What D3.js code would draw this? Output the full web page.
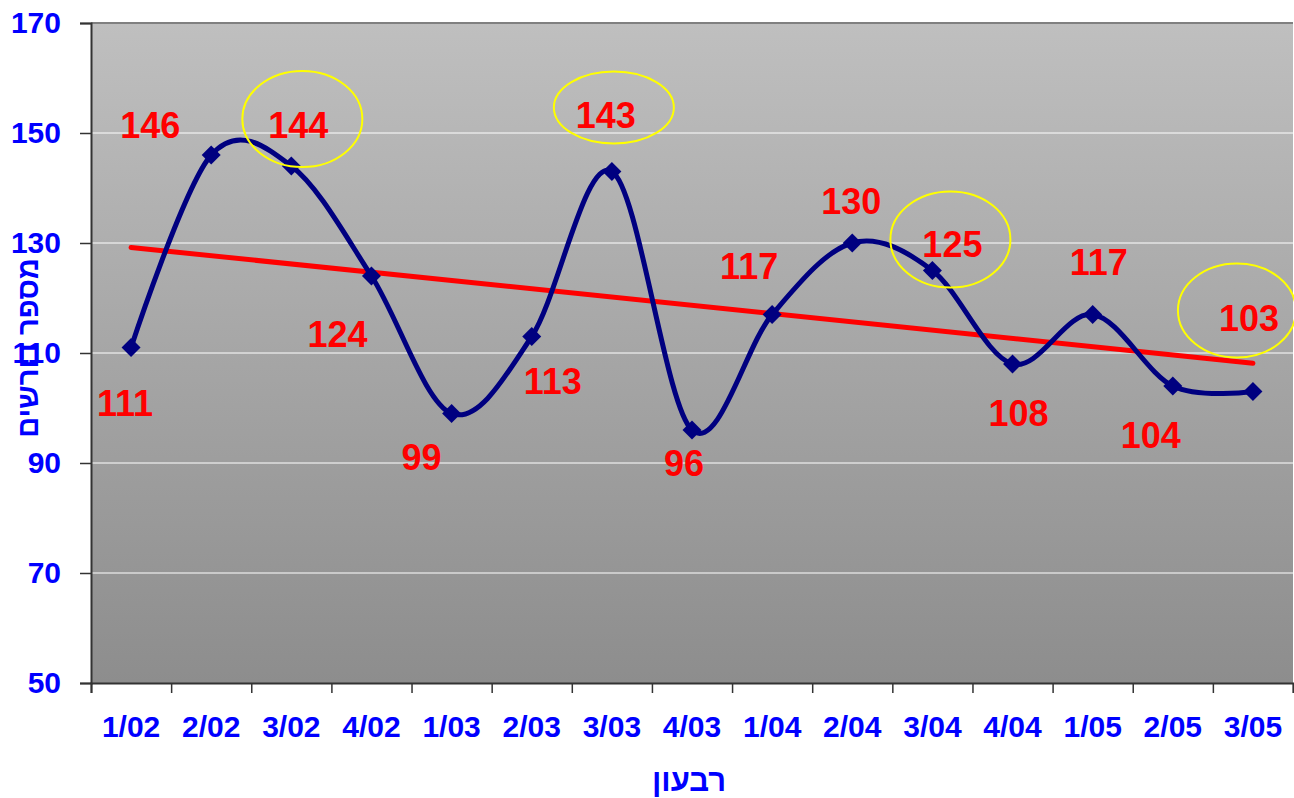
<!DOCTYPE html>
<html><head><meta charset="utf-8">
<script src="https://cdn.jsdelivr.net/npm/d3@7"></script>
<style>
html,body{margin:0;padding:0;background:#fff;}
text{font-family:"Liberation Sans",Arial,sans-serif;font-weight:bold;}
</style></head>
<body>
<svg id="chart" width="1294" height="798"></svg>
<script>
const categories = ["1/02","2/02","3/02","4/02","1/03","2/03","3/03","4/03","1/04","2/04","3/04","4/04","1/05","2/05","3/05"];
const values = [111,146,144,124,99,113,143,96,117,130,125,108,117,104,103];
const yTicks = [50,70,90,110,130,150,170];
const yTitle = "מספר דורשים";
const xTitle = "רבעון";
// label offsets (px) relative to each point
const labelDx = [-6,-61,7,-34,-30,21,-6,-8,-23,-1,20,6,6,-22,-4];
const labelDy = [56,-30,-41,58,44,45,-56,33,-48,-42,-26,49,-52,49,-73];
// highlighted points (yellow ellipses)
const hiIndex = [2,6,10,14];
const hiDx = [11,2,18,-16];
const hiDy = [-47,-64,-31,-81];
const hiRx = [60,60,60,59];
const hiRy = [48,36,48,47];

const svg = d3.select("#chart");
const L=91, R=1293, T=23, B=683;

const defs = svg.append("defs");
const g = defs.append("linearGradient").attr("id","bg").attr("x1",0).attr("y1",0).attr("x2",0).attr("y2",1);
g.append("stop").attr("offset","0%").attr("stop-color","#bfbfbf");
g.append("stop").attr("offset","100%").attr("stop-color","#8d8d8d");

svg.append("rect").attr("x",L).attr("y",T).attr("width",R-L).attr("height",B-T).attr("fill","url(#bg)");

const x = d3.scaleBand().domain(categories).range([L,R]).padding(0);
const xb = d3.scaleLinear().domain([0,categories.length]).range([L,R]);
const y = d3.scaleLinear().domain([50,170]).range([B,T]);
const cx = c => x(c) + x.bandwidth()/2;

// gridlines
svg.append("g").selectAll("line").data(yTicks.filter(t=>t>50 && t<170)).join("line")
  .attr("x1",L).attr("x2",R).attr("y1",d=>y(d)).attr("y2",d=>y(d))
  .attr("stroke","#ffffff").attr("stroke-width",1);
// top border
svg.append("line").attr("x1",L).attr("x2",R).attr("y1",T).attr("y2",T).attr("stroke","#808080").attr("stroke-width",2);

// y axis
const ya = svg.append("g").attr("transform",`translate(${L},0)`)
  .call(d3.axisLeft(y).tickValues(yTicks).tickSize(11).tickPadding(19));
ya.select(".domain").attr("stroke","#333").attr("stroke-width",2);
ya.selectAll(".tick line").attr("stroke","#333").attr("stroke-width",1.5);
ya.selectAll(".tick text").attr("fill","#0000ff").attr("font-size","30px")
  .attr("font-family","'Liberation Sans',Arial,sans-serif").attr("font-weight","bold");

// x axis ticks (boundaries)
const xa = svg.append("g").attr("transform",`translate(0,${B})`)
  .call(d3.axisBottom(xb).tickValues(d3.range(categories.length+1)).tickSize(10).tickFormat(""));
xa.select(".domain").attr("stroke","#333").attr("stroke-width",2);
xa.selectAll(".tick line").attr("stroke","#333").attr("stroke-width",1.5);
// x labels
const xl = svg.append("g").attr("transform",`translate(0,${B})`)
  .call(d3.axisBottom(x).tickSize(0).tickPadding(33));
xl.select(".domain").remove();
xl.selectAll(".tick text").attr("fill","#0000ff").attr("font-size","30px")
  .attr("font-family","'Liberation Sans',Arial,sans-serif").attr("font-weight","bold");

// trend line (least squares)
const n = values.length;
const mx = d3.mean(d3.range(n)), my = d3.mean(values);
const slope = d3.sum(values,(v,i)=>(i-mx)*(v-my)) / d3.sum(d3.range(n),i=>(i-mx)*(i-mx));
const icpt = my - slope*mx;
svg.append("line")
  .attr("x1",cx(categories[0])).attr("y1",y(icpt))
  .attr("x2",cx(categories[n-1])).attr("y2",y(icpt+slope*(n-1)))
  .attr("stroke","#ff0000").attr("stroke-width",5).attr("stroke-linecap","round");

// series line
const line = d3.line().x((d,i)=>cx(categories[i])).y(d=>y(d)).curve(d3.curveCardinal.tension(0));
svg.append("path").datum(values).attr("d",line).attr("fill","none")
  .attr("stroke","#000080").attr("stroke-width",5);

// markers
svg.append("g").selectAll("path").data(values).join("path")
  .attr("d",d3.symbol().type(d3.symbolSquare).size(180))
  .attr("transform",(d,i)=>`translate(${cx(categories[i])},${y(d)}) rotate(45)`)
  .attr("fill","#000080");

// data labels
svg.append("g").selectAll("text").data(values).join("text")
  .attr("x",(d,i)=>cx(categories[i])+labelDx[i])
  .attr("y",(d,i)=>y(d)+labelDy[i])
  .attr("dy","0.36em").attr("text-anchor","middle")
  .attr("fill","#ff0000").attr("font-size","36px").text(d=>d);

// ellipses
svg.append("g").selectAll("ellipse").data(hiIndex).join("ellipse")
  .attr("cx",(d,k)=>cx(categories[d])+hiDx[k])
  .attr("cy",(d,k)=>y(values[d])+hiDy[k])
  .attr("rx",(d,k)=>hiRx[k]).attr("ry",(d,k)=>hiRy[k])
  .attr("fill","none").attr("stroke","#ffff00").attr("stroke-width",2);

// axis titles
svg.append("text").attr("transform",`translate(28,348) rotate(-90)`)
  .attr("text-anchor","middle").attr("dy","0.36em").attr("fill","#0000ff")
  .attr("font-size","29px").attr("direction","rtl").text(yTitle);
svg.append("text").attr("x",689).attr("y",780).attr("dy","0.36em")
  .attr("text-anchor","middle").attr("fill","#0000ff").attr("font-size","31px").text(xTitle);
</script>
</body></html>
